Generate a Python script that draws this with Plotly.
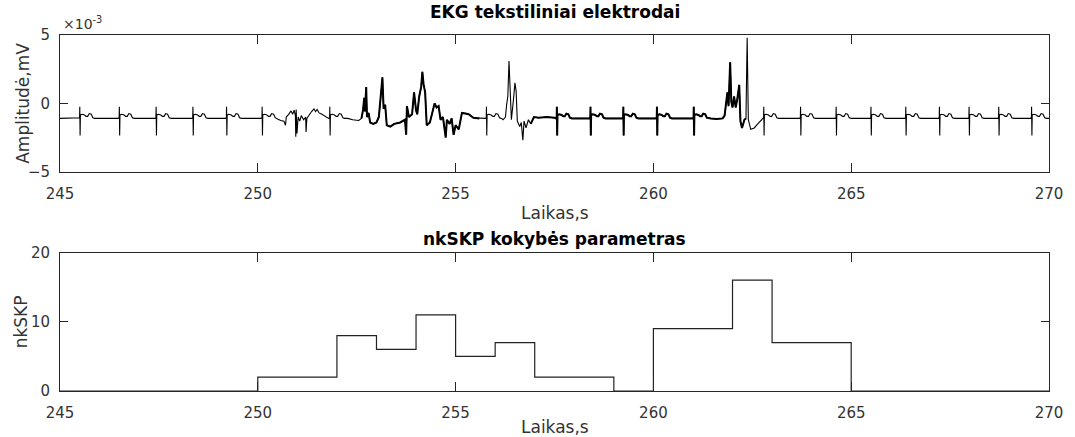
import plotly.graph_objects as go

# ---------------- data ----------------
# regular heart beats (s) in the EKG trace
beat_times = [245.50, 246.50, 247.43, 248.36, 249.21, 250.11, 251.82, 255.78,
              257.56, 258.41, 259.24, 260.09, 261.02, 262.79, 263.72, 264.62,
              265.50, 266.38, 267.23, 267.98, 268.73, 269.56]
# shape of one beat: time offset (s) and amplitude (x1e-3 mV)
beat_dt = [-0.03, -0.005, 0.0, 0.008, 0.016, 0.06, 0.12, 0.16, 0.20, 0.24, 0.29, 0.33, 0.38]
beat_v = [-1.1, -1.05, -0.25, -2.35, -0.85, -0.8, -0.85, -0.95, -0.95, -0.75, -0.8, -1.05, -1.1]

# artefact segments (time s, amplitude x1e-3 mV)
seg1_t = [250.50, 250.58, 250.66, 250.70, 250.72, 250.78, 250.84, 250.88, 250.92, 250.95,
          250.96, 250.97, 250.99, 251.02, 251.06, 251.10, 251.16, 251.21, 251.22, 251.24,
          251.30, 251.36, 251.42, 251.46, 251.50, 251.55, 251.62, 251.70, 251.78]
seg1_v = [-1.15, -1.25, -1.3, -1.6, -1.0, -0.8, -0.55, -0.8, -0.5, -0.9,
          -2.45, -0.45, -2.2, -1.0, -1.3, -0.9, -1.2, -1.0, -2.1, -1.1,
          -0.8, -0.6, -0.4, -0.6, -0.45, -0.7, -0.8, -0.95, -1.05]

seg2_t = [252.27, 252.40, 252.55, 252.62, 252.66, 252.69, 252.71, 252.74, 252.76, 252.80,
          252.84, 252.92, 253.00, 253.06, 253.10, 253.15, 253.18, 253.22, 253.26, 253.35,
          253.45, 253.60, 253.72, 253.75, 253.77, 253.82, 253.90, 253.95, 254.00, 254.03,
          254.08, 254.13, 254.16, 254.19, 254.23, 254.27, 254.35, 254.42, 254.47, 254.52,
          254.57, 254.62, 254.68, 254.75, 254.78, 254.85, 254.90, 254.95, 255.00, 255.08,
          255.12, 255.16, 255.25, 255.33, 255.45, 255.60, 255.74]
seg2_v = [-1.1, -1.2, -1.25, -1.1, -0.5, 0.4, -0.6, 1.2, -1.0, -0.7,
          -1.4, -1.5, -1.4, -1.0, 0.2, 1.9, -0.4, -0.1, -1.6, -1.7,
          -1.5, -1.4, -1.2, -2.3, -0.2, -1.0, -0.8, 0.8, -0.5, -0.8,
          0.5, 1.2, 2.3, 1.4, 0.8, -1.6, -1.4, -0.5, 0.0, -0.3,
          -0.2, -1.2, -1.0, -2.5, -1.2, -1.5, -1.1, -2.3, -1.6, -1.9,
          -1.2, -0.7, -0.75, -0.8, -1.05, -1.1, -1.1]

seg3_t = [256.20, 256.26, 256.29, 256.32, 256.35, 256.38, 256.41, 256.46, 256.50, 256.53,
          256.56, 256.62, 256.66, 256.70, 256.73, 256.78, 256.84, 256.90, 256.98, 257.10,
          257.30, 257.50]
seg3_v = [-1.2, -1.0, -0.1, 0.5, 3.1, 0.0, -1.2, 0.2, 1.5, 0.9,
          -1.3, -1.7, -1.4, -2.7, -1.3, -1.8, -1.2, -1.5, -1.0, -1.05,
          -1.0, -1.05]

seg4_t = [261.45, 261.60, 261.75, 261.80, 261.84, 261.87, 261.90, 261.94, 261.97, 262.00,
          262.04, 262.08, 262.12, 262.17, 262.20, 262.24, 262.30, 262.34, 262.37, 262.40,
          262.46, 262.55, 262.62, 262.70, 262.75]
seg4_v = [-1.1, -1.15, -1.1, -0.9, 0.1, 0.8, -0.2, 3.0, 0.1, -0.3,
          0.5, -0.3, 0.3, 1.35, -1.3, -1.8, -1.2, -1.1, 4.8, -1.2,
          -1.9, -1.8, -1.55, -1.3, -1.15]

edge_t = [245.0, 270.0]
edge_v = [-1.1, -1.1]

# time spans where the recorded trace is dense (drawn thicker)
dense_start = [252.6, 256.9]
dense_end = [255.6, 262.35]

# nkSKP quality parameter (step function)
q_t = [245, 250, 252, 253, 254, 255, 256, 257, 259, 260, 262, 263, 265, 270]
q_v = [0, 2, 8, 6, 11, 5, 7, 2, 0, 9, 16, 7, 0, 0]

# ---------------- assemble EKG trace ----------------
pts = list(zip(edge_t, edge_v))
for tb in beat_times:
    pts += [(tb + d, v) for d, v in zip(beat_dt, beat_v)]
for st, sv in [(seg1_t, seg1_v), (seg2_t, seg2_v), (seg3_t, seg3_v), (seg4_t, seg4_v)]:
    pts += list(zip(st, sv))
pts.sort(key=lambda p: p[0])
ecg_t = [p[0] for p in pts]
ecg_v = [p[1] for p in pts]

# ---------------- figure ----------------
FONT = "DejaVu Sans"
AX = "#262626"
TXT = "#333333"

fig = go.Figure()
fig.add_trace(go.Scatter(x=ecg_t, y=ecg_v, mode="lines",
                         line=dict(color="black", width=1.1),
                         xaxis="x", yaxis="y", showlegend=False))
for a, b in zip(dense_start, dense_end):
    sel = [(t, v) for t, v in zip(ecg_t, ecg_v) if a <= t <= b]
    fig.add_trace(go.Scatter(x=[p[0] for p in sel], y=[p[1] for p in sel], mode="lines",
                             line=dict(color="black", width=2.0),
                             xaxis="x", yaxis="y", showlegend=False))
fig.add_trace(go.Scatter(x=q_t, y=q_v, mode="lines", line_shape="hv",
                         line=dict(color="#222222", width=1.2),
                         xaxis="x2", yaxis="y2", showlegend=False))

W, H = 1075, 437
ML, MR, MT, MB = 60, 18, 35, 46
PH = H - MT - MB


def py(p):
    return (H - MB - p) / PH


def px(p):
    return (p - ML) / (W - ML - MR)


common_x = dict(range=[245, 270], tickvals=[245, 250, 255, 260, 265, 270],
                ticks="inside", ticklen=9, tickcolor=AX, tickwidth=1,
                showline=True, linecolor=AX, linewidth=1, mirror="ticks",
                showgrid=False, zeroline=False,
                tickfont=dict(family=FONT, size=15, color=TXT),
                ticklabelstandoff=8)
common_y = dict(ticks="inside", ticklen=8, tickcolor=AX, tickwidth=1,
                showline=True, linecolor=AX, linewidth=1, mirror="ticks",
                showgrid=False, zeroline=False,
                tickfont=dict(family=FONT, size=15, color=TXT),
                ticklabelstandoff=6)

fig.update_layout(
    width=W, height=H,
    margin=dict(l=ML, r=MR, t=MT, b=MB),
    paper_bgcolor="white", plot_bgcolor="white",
    xaxis=dict(domain=[0, 1], anchor="y", **common_x),
    yaxis=dict(domain=[py(171.7), 1.0], anchor="x", range=[-5, 5],
               tickvals=[-5, 0, 5], **common_y),
    xaxis2=dict(domain=[0, 1], anchor="y2", **common_x),
    yaxis2=dict(domain=[0, py(252.5)], anchor="x2", range=[0, 20],
                tickvals=[0, 10, 20], **common_y),
)

ann = [
    dict(text="<b>EKG tekstiliniai elektrodai</b>", x=0.5, y=py(12), size=17, angle=0,
         xa="center", ya="middle", color="black"),
    dict(text="<b>nkSKP kokybės parametras</b>", x=0.5, y=py(239), size=17, angle=0,
         xa="center", ya="middle", color="black"),
    dict(text="Laikas,s", x=0.5, y=py(213), size=17, angle=0, xa="center", ya="middle", color=TXT),
    dict(text="Laikas,s", x=0.5, y=py(427), size=17, angle=0, xa="center", ya="middle", color=TXT),
    dict(text="Amplitudė,mV", x=px(22), y=py(103.5), size=17, angle=-90, xa="center", ya="middle", color=TXT),
    dict(text="nkSKP", x=px(21), y=py(322), size=17, angle=-90, xa="center", ya="middle", color=TXT),
    dict(text="×10<sup>-3</sup>", x=px(61), y=py(34), size=14, angle=0, xa="left", ya="bottom", color=TXT),
]
for a in ann:
    fig.add_annotation(text=a["text"], x=a["x"], y=a["y"], xref="paper", yref="paper",
                       showarrow=False, textangle=a["angle"], xanchor=a["xa"], yanchor=a["ya"],
                       font=dict(family=FONT, size=a["size"], color=a["color"]))

fig.write_html("out.html")
